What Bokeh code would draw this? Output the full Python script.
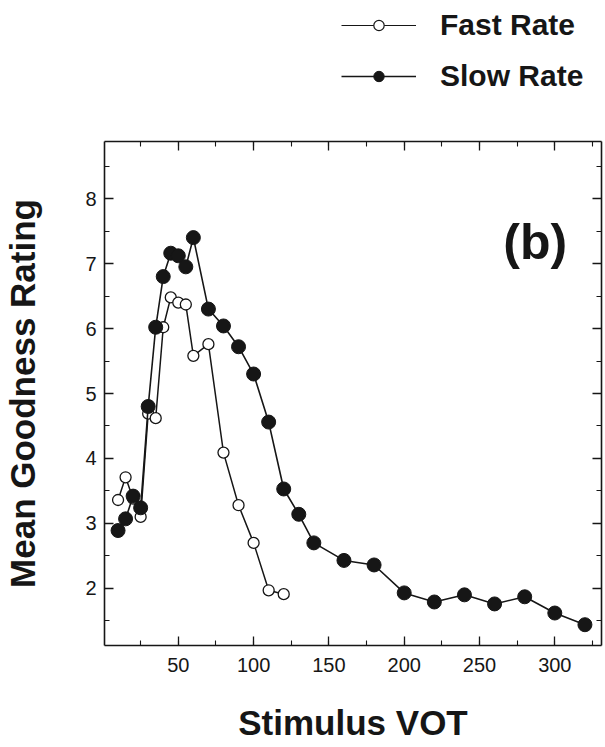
from bokeh.plotting import figure
from bokeh.models import (LinearAxis, SingleIntervalTicker, Legend, LegendItem,
                          Label, Range1d, CustomJSTickFormatter)
from bokeh.layouts import column
from bokeh.embed import file_html
from bokeh.resources import INLINE

# ---- data ----
fast_vot = [10, 15, 20, 25, 30, 35, 40, 45, 50, 55, 60, 70, 80, 90, 100, 110, 120]
fast_rating = [3.36, 3.71, 3.38, 3.10, 4.69, 4.62, 6.02, 6.48, 6.40, 6.37, 5.58,
               5.76, 4.09, 3.28, 2.70, 1.97, 1.91]

slow_vot = [10, 15, 20, 25, 30, 35, 40, 45, 50, 55, 60, 70, 80, 90, 100, 110, 120,
            130, 140, 160, 180, 200, 220, 240, 260, 280, 300, 320]
slow_rating = [2.89, 3.07, 3.42, 3.24, 4.80, 6.02, 6.80, 7.16, 7.12, 6.95, 7.40,
               6.30, 6.04, 5.72, 5.30, 4.56, 3.53, 3.14, 2.70, 2.43, 2.36, 1.93,
               1.79, 1.90, 1.76, 1.87, 1.62, 1.44]

series_names = ["Fast Rate", "Slow Rate"]
x_title = "Stimulus VOT"
y_title = "Mean Goodness Rating"
panel_tag = "(b)"

INK = "#161616"
FONT = "Liberation Sans"

# ---------------- main plot ----------------
p = figure(width=605, height=647, output_backend="svg", toolbar_location=None,
           x_range=Range1d(1, 331), y_range=Range1d(1.12, 8.88),
           min_border_left=103, min_border_right=4, min_border_top=41,
           min_border_bottom=102, x_axis_location=None, y_axis_location=None)
p.grid.visible = False
p.outline_line_color = None
p.background_fill_color = "white"
p.border_fill_color = "white"


def style_axis(ax, show_labels):
    ax.axis_line_color = INK
    ax.axis_line_width = 1.6
    ax.major_tick_in = 9
    ax.major_tick_out = 0
    ax.minor_tick_in = 5
    ax.minor_tick_out = 0
    ax.major_tick_line_color = INK
    ax.minor_tick_line_color = INK
    ax.major_tick_line_width = 1.3
    ax.minor_tick_line_width = 1.1
    if show_labels:
        ax.major_label_text_font = FONT
        ax.major_label_text_font_size = "20px"
        ax.major_label_text_color = INK
        ax.axis_label_text_font = FONT
        ax.axis_label_text_font_style = "bold"
        ax.axis_label_text_font_size = "35px"
        ax.axis_label_text_color = INK
    else:
        ax.formatter = CustomJSTickFormatter(code="return ''")
        ax.major_label_standoff = 0


xt = SingleIntervalTicker(interval=50, num_minor_ticks=2)
yt = SingleIntervalTicker(interval=1, num_minor_ticks=2)

xb = LinearAxis(ticker=xt, axis_label=x_title)
style_axis(xb, True)
xb.major_label_standoff = 12
xb.axis_label_standoff = 28
p.add_layout(xb, "below")

yl = LinearAxis(ticker=yt, axis_label=y_title)
style_axis(yl, True)
yl.major_label_standoff = 8
yl.axis_label_standoff = 40
p.add_layout(yl, "left")

xa = LinearAxis(ticker=xt)
style_axis(xa, False)
p.add_layout(xa, "above")

yr = LinearAxis(ticker=yt)
style_axis(yr, False)
p.add_layout(yr, "right")

# ---- series ----
p.line(fast_vot, fast_rating, line_color=INK, line_width=1.5)
p.scatter(fast_vot, fast_rating, marker="circle", size=11, fill_color="white",
          line_color=INK, line_width=1.3)
p.line(slow_vot, slow_rating, line_color=INK, line_width=1.6)
p.scatter(slow_vot, slow_rating, marker="circle", size=14, fill_color=INK,
          line_color=INK, line_width=1)

tag = Label(x=287, y=7.33, text=panel_tag, text_font=FONT, text_font_style="bold",
            text_font_size="50px", text_color=INK, text_align="center",
            text_baseline="middle")
p.add_layout(tag)

# ---------------- legend strip above ----------------
# The strip's ranges exclude all data, so its renderers only feed the legend keys.
lf = figure(width=605, height=100, output_backend="svg", toolbar_location=None,
            x_range=Range1d(-2, -1), y_range=Range1d(-2, -1), min_border=0,
            x_axis_location=None, y_axis_location=None)
lf.grid.visible = False
lf.outline_line_color = None
lf.background_fill_color = "white"
lf.border_fill_color = "white"

fl = lf.line(fast_vot, fast_rating, line_color=INK, line_width=1.1)
fs = lf.scatter(fast_vot, fast_rating, marker="circle", fill_color="white",
                line_color=INK, line_width=1.2)
sl = lf.line(slow_vot, slow_rating, line_color=INK, line_width=1.3)
ss = lf.scatter(slow_vot, slow_rating, marker="circle", fill_color=INK,
                line_color=INK)

for i, (name, rends) in enumerate(zip(series_names, [[fl, fs], [sl, ss]])):
    lg = Legend(items=[LegendItem(label=name, renderers=rends)],
                location=(237, 58 - 51 * i))
    lg.glyph_width = 75
    lg.glyph_height = 26
    lg.label_standoff = 24
    lg.padding = 0
    lg.margin = 0
    lg.spacing = 0
    lg.border_line_color = None
    lg.background_fill_alpha = 0
    lg.label_text_font = FONT
    lg.label_text_font_style = "bold"
    lg.label_text_font_size = "30px"
    lg.label_text_color = INK
    lg.label_height = 26
    lf.add_layout(lg, "center")

layout = column(lf, p, spacing=0)
open("out.html", "w").write(file_html(layout, INLINE))
